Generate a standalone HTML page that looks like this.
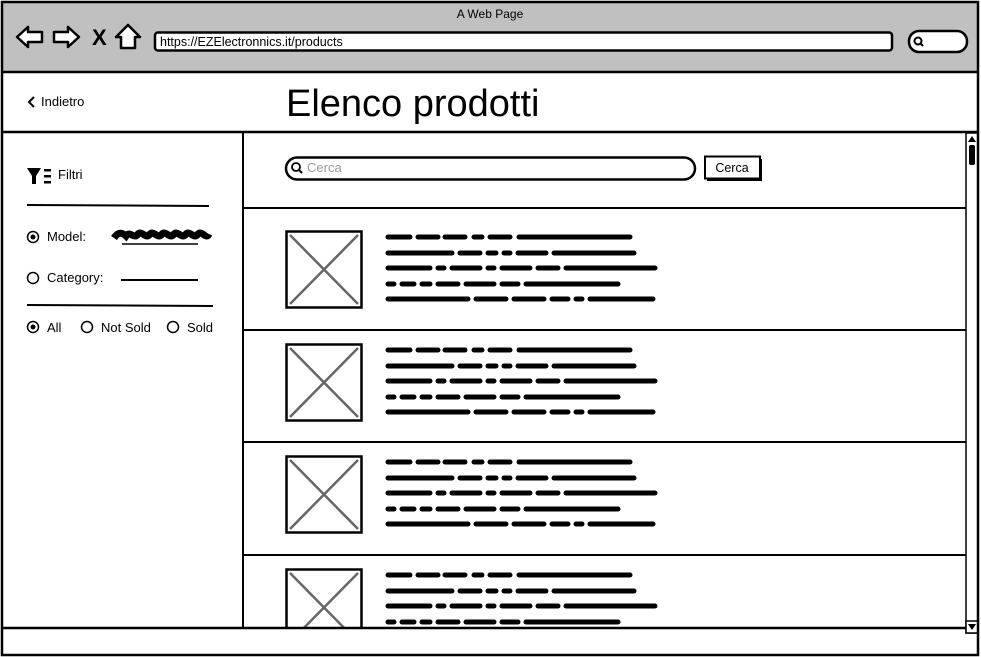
<!DOCTYPE html>
<html><head><meta charset="utf-8"><style>
html,body{margin:0;padding:0;background:#fff;}
svg{display:block;}
text{font-family:"Liberation Sans",sans-serif;fill:#000;}
</style></head><body>
<svg width="981" height="657" viewBox="0 0 981 657" xmlns="http://www.w3.org/2000/svg">
<defs>
<g id="words" stroke="#000" stroke-width="5" stroke-linecap="round" fill="none">
<path d="M388 237H410M418 237H438M445 237H465M474 237H482M490 237H510M519 237H630"/>
<path d="M388 253H452M460 253H480M488 253H496M504 253H510M518 253H546M554 253H634"/>
<path d="M388 268H430M438 268H444M452 268H480M488 268H494M502 268H530M538 268H558M566 268H655"/>
<path d="M388 284H394M402 284H414M422 284H430M438 284H458M466 284H494M502 284H518M526 284H618"/>
<path d="M388 299H468M476 299H506M514 299H544M552 299H568M576 299H582M590 299H653"/>
</g>
<g id="img">
<rect x="286.5" y="231.5" width="75" height="76" fill="#fff" stroke="#000" stroke-width="2.5"/>
<path d="M290 235L358 304M358 235L290 304" stroke="#666" stroke-width="2.5"/>
</g>
<clipPath id="list"><rect x="244" y="209" width="721" height="419"/></clipPath>
</defs>
<rect x="0" y="0" width="981" height="657" fill="#fff"/>
<rect x="2" y="2" width="976" height="70" fill="#c0c0c0"/>
<text x="490" y="18" font-size="12" text-anchor="middle">A Web Page</text>
<g fill="#fff" stroke="#000" stroke-width="2.5" stroke-linejoin="round">
<path d="M17 37L28 27V32H42V42H28V47Z"/>
<path d="M79 37L68 27V32H54V42H68V47Z"/>
<path d="M128 25L140 37H135V48H121V37H116Z"/>
</g>
<text x="92" y="45" font-size="22" font-weight="bold">X</text>
<rect x="155" y="32.5" width="737" height="18" rx="3" fill="#fff" stroke="#000" stroke-width="2.5"/>
<text x="160" y="46" font-size="12.5">https://EZElectronnics.it/products</text>
<rect x="909" y="31" width="58" height="21" rx="10" fill="#fff" stroke="#000" stroke-width="2.5"/>
<circle cx="918" cy="41" r="3.5" fill="none" stroke="#000" stroke-width="2"/>
<path d="M920 43L923 46" stroke="#000" stroke-width="2"/>
<line x1="2" y1="72" x2="978" y2="72" stroke="#000" stroke-width="2.5"/>
<path d="M34 97L29 102L34 107" fill="none" stroke="#000" stroke-width="2"/>
<text x="41" y="106" font-size="13">Indietro</text>
<text x="286" y="116" font-size="38">Elenco prodotti</text>
<line x1="2" y1="132" x2="978" y2="132" stroke="#000" stroke-width="2.5"/>
<line x1="243" y1="132" x2="243" y2="628" stroke="#000" stroke-width="2"/>
<path d="M27 168H41L36 176V184H32V176Z" fill="#000"/>
<rect x="44" y="169" width="7" height="2.5" fill="#000"/>
<rect x="44" y="175" width="7" height="2.5" fill="#000"/>
<rect x="44" y="181" width="7" height="2.5" fill="#000"/>
<text x="58" y="179" font-size="13">Filtri</text>
<line x1="27" y1="205" x2="209" y2="206" stroke="#000" stroke-width="2"/>
<circle cx="33" cy="237" r="5.5" fill="none" stroke="#000" stroke-width="1.5"/>
<circle cx="33" cy="237" r="2.5" fill="#000"/>
<text x="47" y="241" font-size="13">Model:</text>
<path d="M114 238C118 232 122 232 126 236C130 230 134 240 138 234C142 230 146 240 150 234C154 230 158 240 162 234C166 230 170 240 174 234C178 230 182 240 186 234C190 230 194 240 198 234C202 230 206 240 209 234" fill="none" stroke="#000" stroke-width="7"/>
<line x1="122" y1="244" x2="198" y2="244" stroke="#000" stroke-width="1.5"/>
<circle cx="33" cy="278" r="5.5" fill="none" stroke="#000" stroke-width="1.5"/>
<text x="47" y="282" font-size="13">Category:</text>
<line x1="121" y1="280" x2="198" y2="280" stroke="#000" stroke-width="2"/>
<line x1="27" y1="305" x2="213" y2="306" stroke="#000" stroke-width="2"/>
<circle cx="33" cy="327" r="5.5" fill="none" stroke="#000" stroke-width="1.5"/>
<circle cx="33" cy="327" r="2.5" fill="#000"/>
<text x="47" y="332" font-size="13">All</text>
<circle cx="87" cy="327" r="5.5" fill="none" stroke="#000" stroke-width="1.5"/>
<text x="101" y="332" font-size="13">Not Sold</text>
<circle cx="173" cy="327" r="5.5" fill="none" stroke="#000" stroke-width="1.5"/>
<text x="187" y="332" font-size="13">Sold</text>
<rect x="286" y="157.5" width="409" height="22" rx="11" fill="#fff" stroke="#000" stroke-width="2.5"/>
<circle cx="296" cy="167" r="4" fill="none" stroke="#000" stroke-width="1.8"/>
<path d="M299 170L302 173" stroke="#000" stroke-width="2"/>
<text x="307" y="172" font-size="13" style="fill:#999">Cerca</text>
<rect x="707" y="159" width="55" height="22" fill="#000"/>
<rect x="705" y="156.5" width="55" height="22" fill="#fff" stroke="#000" stroke-width="2"/>
<text x="732" y="172" font-size="12.5" text-anchor="middle">Cerca</text>
<line x1="243" y1="208" x2="966" y2="208" stroke="#000" stroke-width="2"/>
<g clip-path="url(#list)">
<use href="#img"/><use href="#words"/>
<g transform="translate(0,113)"><use href="#img"/><use href="#words"/></g>
<g transform="translate(0,225)"><use href="#img"/><use href="#words"/></g>
<g transform="translate(0,338)"><use href="#img"/><use href="#words"/></g>
</g>
<line x1="243" y1="330" x2="966" y2="330" stroke="#000" stroke-width="2"/>
<line x1="243" y1="442" x2="966" y2="442" stroke="#000" stroke-width="2"/>
<line x1="243" y1="555" x2="966" y2="555" stroke="#000" stroke-width="2"/>
<rect x="966" y="133" width="12" height="500" fill="#fff" stroke="#000" stroke-width="1.5"/>
<path d="M968 142L972 136L976 142Z" fill="#000"/>
<rect x="969" y="145" width="6" height="20" rx="2" fill="#000"/>
<rect x="966" y="621" width="12" height="12" fill="#fff" stroke="#000" stroke-width="1.5"/>
<path d="M968 624L972 630L976 624Z" fill="#000"/>
<line x1="2" y1="628" x2="966" y2="628" stroke="#000" stroke-width="2.5"/>
<line x1="978" y1="633" x2="978" y2="633" stroke="#000"/>
<rect x="2" y="2" width="976" height="653" fill="none" stroke="#000" stroke-width="2.5"/>
</svg>
</body></html>
